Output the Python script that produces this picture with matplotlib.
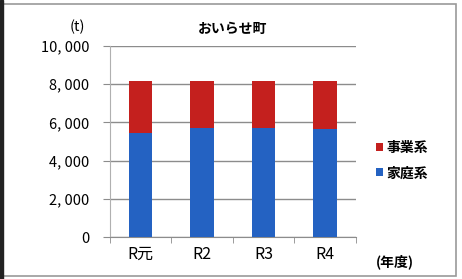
import numpy as np
import matplotlib.pyplot as plt
from matplotlib.ticker import FuncFormatter
from matplotlib.patches import Rectangle

plt.rcParams['font.family'] = ['Noto Sans CJK JP', 'DejaVu Sans']

years = ["R元", "R2", "R3", "R4"]
household = [5425, 5686, 5686, 5660]   # 家庭系
business = [2745, 2485, 2485, 2510]    # 事業系

blue = "#2462C2"
red = "#C4201E"

fig = plt.figure(figsize=(4.62, 2.79), dpi=100)
ax = fig.add_axes([0.238, 0.149, 0.532, 0.687])

x = np.arange(len(years))
ax.bar(x, household, width=0.38, color=blue, label="家庭系", zorder=3)
ax.bar(x, business, width=0.38, bottom=household, color=red, label="事業系", zorder=3)

ax.set_xlim(-0.5, len(years) - 0.5)
ax.set_ylim(0, 10000)
ax.set_yticks(np.arange(0, 10001, 2000))
ax.yaxis.set_major_formatter(FuncFormatter(lambda v, p: f"{int(v):,}".replace(",", ", ")))
ax.grid(axis="y", color="#8c8c8c", linewidth=1.0, zorder=0)
ax.set_axisbelow(True)

ax.set_xticks(x)
ax.set_xticklabels(years, fontsize=11.5)
ax.set_xticks(np.arange(-0.5, len(years)), minor=True)
ax.tick_params(axis="x", which="major", length=0, pad=6)
ax.tick_params(axis="x", which="minor", length=4, color="#8c8c8c", direction="out")
ax.tick_params(axis="y", length=5, color="#8c8c8c", labelsize=10.5, pad=10)

for s in ["top", "right"]:
    ax.spines[s].set_visible(False)
ax.spines["left"].set_color("#b0b0b0")
ax.spines["bottom"].set_color("#8c8c8c")

ax.set_title("おいらせ町", fontsize=10, fontweight="bold", pad=9)
fig.text(0.168, 0.905, "(t)", fontsize=10.5, ha="center", va="center")
fig.text(0.855, 0.06, "(年度)", fontsize=10, fontweight="bold", ha="center", va="center")

handles, labels = ax.get_legend_handles_labels()
ax.legend(handles[::-1], labels[::-1], loc="center left", bbox_to_anchor=(1.03, 0.40),
          frameon=False, prop={"size": 10, "weight": "bold"}, handlelength=0.5,
          handleheight=0.5, handletextpad=0.3, labelspacing=0.8)

# outer frame of the chart box
fig.patches.append(Rectangle((0.006, 0.01), 0.98, 0.975, transform=fig.transFigure,
                             fill=False, edgecolor="#9a9a9a", linewidth=1.2))
fig.patches.append(Rectangle((0.0, 0.0), 0.006, 1.0, transform=fig.transFigure,
                             color="#222222"))

fig.savefig("out.png", dpi=100)
